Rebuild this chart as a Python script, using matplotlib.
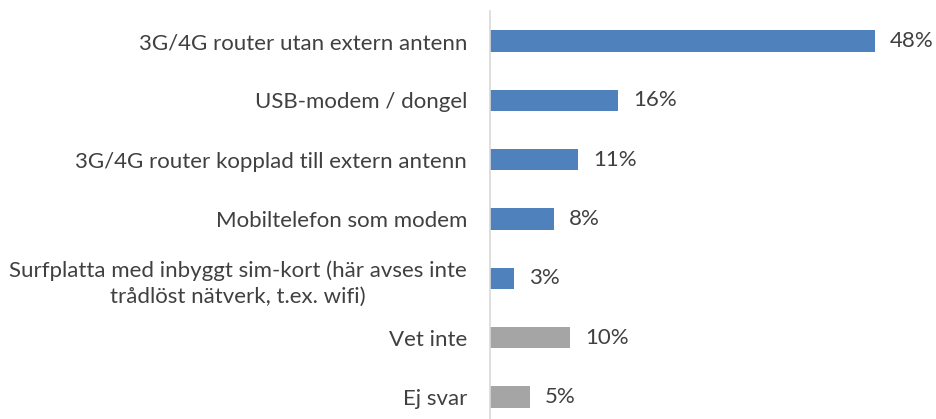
import matplotlib
matplotlib.use('Agg')
import matplotlib.pyplot as plt

# Data
categories = [
    "3G/4G router utan extern antenn",
    "USB-modem / dongel",
    "3G/4G router kopplad till extern antenn",
    "Mobiltelefon som modem",
    "Surfplatta med inbyggt sim-kort (här avses inte\ntrådlöst nätverk, t.ex. wifi)",
    "Vet inte",
    "Ej svar",
]
values = [48, 16, 11, 8, 3, 10, 5]
is_other = [False, False, False, False, False, True, True]

BLUE = '#4F81BD'
GREY = '#A5A5A5'
TEXT = '#404040'
FS = 16

plt.rcParams['font.family'] = ['Lato', 'DejaVu Sans']

fig = plt.figure(figsize=(9.36, 4.19), dpi=100)
W, H = 936, 419
left_px, right_px = 490, 936
top_px, bottom_px = 11.5, 426.5
ax = fig.add_axes([left_px / W, 1 - bottom_px / H,
                   (right_px - left_px) / W, (bottom_px - top_px) / H])

ypos = list(range(len(categories)))
colors = [GREY if o else BLUE for o in is_other]
ax.barh(ypos, values, height=0.36, color=colors, zorder=2)

xmax = 48 * (right_px - left_px) / (875 - left_px)
ax.set_xlim(0, xmax)
ax.set_ylim(len(categories) - 0.5, -0.5)

for y, v in zip(ypos, values):
    ax.annotate(f"{v}%", (v, y), xytext=(10.5, 0), textcoords='offset points',
                va='center', ha='left', fontsize=FS, color=TEXT)

ax.set_yticks(ypos)
ax.set_yticklabels(categories, fontsize=FS, color=TEXT, multialignment='center',
                   linespacing=1.4)
ax.tick_params(axis='y', length=0, pad=16.5)
ax.set_xticks([])

for s in ['top', 'right', 'bottom']:
    ax.spines[s].set_visible(False)
ax.spines['left'].set_color('#D9D9D9')
ax.spines['left'].set_linewidth(1.2)

fig.savefig('out.png', dpi=100)
